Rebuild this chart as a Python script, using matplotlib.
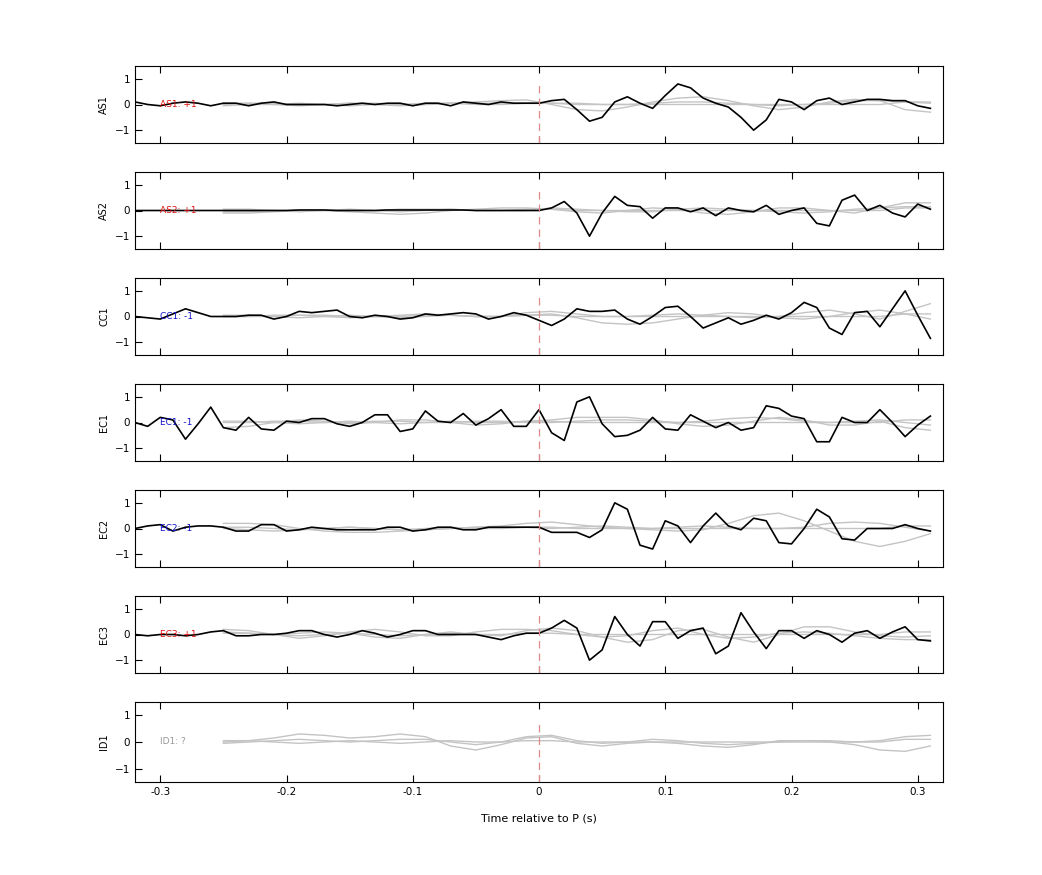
import numpy as np
import matplotlib
matplotlib.use("Agg")
import matplotlib.pyplot as plt

t_black = np.round(np.arange(-0.32, 0.315, 0.01), 2)
t_gray = np.round(np.arange(-0.25, 0.315, 0.02), 2)

stations = ["AS1", "AS2", "CC1", "EC1", "EC2", "EC3", "ID1"]
labels = ["AS1: +1", "AS2: +1", "CC1: -1", "EC1: -1", "EC2: -1", "EC3: +1", "ID1: ?"]
label_colors = ["#dd1111", "#dd1111", "#1111cc", "#1111cc", "#1111cc", "#dd1111", "#999999"]

black = {
"AS1": [0.1,0.0,-0.05,0.05,0.1,0.05,-0.05,0.05,0.05,-0.05,0.05,0.1,0.0,0.0,0.0,0.0,-0.05,0.0,0.05,0.0,0.05,0.05,-0.05,0.05,0.05,-0.05,0.1,0.05,0.0,0.1,0.05,0.05,
        0.05,0.15,0.2,-0.2,-0.65,-0.5,0.1,0.3,0.05,-0.15,0.35,0.8,0.65,0.25,0.05,-0.1,-0.5,-1.0,-0.6,0.2,0.1,-0.2,0.15,0.25,0.0,0.1,0.2,0.2,0.15,0.15,-0.05,-0.15],
"AS2": [0.0,0.0,0.0,0.0,0.0,0.0,0.0,0.0,0.0,0.0,0.0,0.0,0.0,0.02,0.02,0.02,0.0,0.0,0.0,0.0,0.02,0.02,0.02,0.02,0.02,0.02,0.02,0.0,0.0,0.0,0.0,0.0,
        0.0,0.1,0.35,-0.1,-1.0,-0.1,0.55,0.2,0.15,-0.3,0.1,0.1,-0.05,0.1,-0.2,0.1,0.0,-0.05,0.2,-0.15,0.0,0.1,-0.5,-0.6,0.4,0.6,0.0,0.2,-0.1,-0.25,0.25,0.05],
"CC1": [0.0,-0.05,-0.1,0.1,0.3,0.15,0.0,0.0,0.0,0.05,0.05,-0.1,0.0,0.2,0.15,0.2,0.25,0.0,-0.05,0.05,0.0,-0.1,-0.05,0.1,0.05,0.1,0.15,0.1,-0.1,0.0,0.15,0.05,
        -0.15,-0.35,-0.1,0.3,0.2,0.2,0.25,-0.1,-0.3,0.0,0.35,0.4,0.0,-0.45,-0.25,-0.05,-0.3,-0.15,0.05,-0.1,0.15,0.55,0.35,-0.45,-0.7,0.15,0.2,-0.4,0.3,1.0,0.05,-0.85],
"EC1": [0.0,-0.15,0.2,0.1,-0.65,-0.05,0.6,-0.2,-0.3,0.2,-0.25,-0.3,0.05,0.0,0.15,0.15,-0.05,-0.15,0.0,0.3,0.3,-0.35,-0.25,0.45,0.05,0.0,0.35,-0.1,0.15,0.5,-0.15,-0.15,
        0.5,-0.4,-0.7,0.8,1.0,-0.05,-0.55,-0.5,-0.3,0.2,-0.25,-0.3,0.3,0.05,-0.2,0.0,-0.3,-0.2,0.65,0.55,0.25,0.15,-0.75,-0.75,0.2,0.0,0.0,0.5,0.0,-0.55,-0.1,0.25],
"EC2": [0.0,0.1,0.15,-0.1,0.05,0.1,0.1,0.05,-0.1,-0.1,0.15,0.15,-0.1,-0.05,0.05,0.0,-0.05,-0.05,-0.05,-0.05,0.05,0.05,-0.1,-0.05,0.05,0.05,-0.05,-0.05,0.05,0.05,0.05,0.05,
        0.05,-0.15,-0.15,-0.15,-0.35,-0.05,1.0,0.75,-0.65,-0.8,0.3,0.1,-0.55,0.1,0.6,0.1,-0.05,0.4,0.3,-0.55,-0.6,0.0,0.75,0.45,-0.4,-0.45,0.0,0.0,0.0,0.15,0.0,-0.1],
"EC3": [0.0,-0.05,0.0,0.0,-0.05,0.0,0.1,0.15,-0.05,-0.05,0.0,0.0,0.05,0.15,0.15,0.0,-0.1,0.0,0.15,0.05,-0.1,0.0,0.15,0.15,0.0,0.0,0.0,0.0,-0.1,-0.2,-0.05,0.05,
        0.05,0.25,0.55,0.25,-1.0,-0.6,0.7,0.0,-0.45,0.5,0.5,-0.15,0.15,0.25,-0.75,-0.45,0.85,0.1,-0.55,0.15,0.15,-0.15,0.15,0.0,-0.3,0.05,0.15,-0.15,0.1,0.3,-0.2,-0.25],
}

gray_flat = [0.05,0.05,0,-0.05,0,0.05,0,-0.05,0,0.05,0,0,0.05,0.05,0,0,0,0,0,0,0,0,0,0,0,0,0,0.1,0.1]
gray = {
"AS1": [[-0.05,0,0,0.05,0,-0.05,0,0,0.05,0.05,0.1,0.15,0.18,0.0,-0.2,-0.25,-0.1,0.1,0.25,0.3,0.15,-0.05,-0.2,-0.1,0.1,0.2,0.15,-0.2,-0.3],
        [0,0.05,0.05,0,0,0.05,0.05,0,0,0.05,0.05,0.05,0.05,0.05,0.05,0.0,0.0,0.05,0.1,0.1,0.05,0.0,-0.05,0.0,0.05,0.15,0.15,0.1,0.05]],
"AS2": [[-0.1,-0.1,-0.05,0,0,-0.05,-0.1,-0.15,-0.1,0,0.05,0.1,0.1,0.05,-0.05,-0.1,0,0.1,0.05,-0.1,-0.15,-0.05,0.1,0.1,0,-0.1,0.1,0.3,0.3],
        [-0.05,-0.05,0,0,0,0,0,0.05,0.05,0.05,0,0,0,0.1,0.05,0,-0.05,-0.05,0.05,0.1,0.05,0,-0.05,-0.1,-0.05,0.05,0.1,0.15,0.15]],
"CC1": [[0,0,0,0.05,0.05,0,0,0,0.05,0.05,0,0,0.05,0.1,-0.05,-0.25,-0.3,-0.25,-0.1,0.05,0.15,0.1,-0.05,-0.1,0.0,0.15,0.25,0.1,-0.1],
        [0.0,0,0.05,0.05,0,-0.05,0,0.05,0.1,0.05,0,0,0.15,0.2,0.1,0,0,0.05,0.1,0.05,0,-0.05,0,0.15,0.25,0.1,-0.1,0.2,0.5]],
"EC1": [[-0.2,-0.15,0.0,0.1,0.05,-0.05,0,0.1,0.1,0,-0.1,-0.05,0.05,0.1,0.2,0.2,0.2,0.1,-0.05,-0.15,-0.1,0.05,0.2,0.1,-0.1,-0.1,0.05,-0.2,-0.3],
        [0,0,0.05,0.05,0,0,0.05,0.05,0,0,0.05,0.05,0,0,0.05,0.1,0.1,0.05,0,0.05,0.15,0.2,0.15,0.05,0,0.05,0.1,0.0,-0.1]],
"EC2": [[0.2,0.2,0.15,0,-0.1,-0.15,-0.15,-0.1,-0.05,0,0.05,0.1,0.2,0.25,0.15,0.05,0,-0.05,-0.1,-0.05,0.2,0.5,0.6,0.3,-0.1,-0.5,-0.7,-0.5,-0.2],
        [0,-0.05,-0.1,-0.05,0,0.05,0,-0.05,-0.05,0,0.05,0.05,0.05,0.0,0.05,0.1,0.05,0,0.05,0.1,0.05,0,0.0,0.05,0.2,0.25,0.2,0.05,-0.1]],
"EC3": [[0.2,0.15,0.0,-0.15,-0.05,0.1,0.2,0.1,-0.05,-0.05,0.1,0.2,0.2,0.15,0.0,-0.1,-0.3,-0.2,0.15,0.2,-0.1,-0.3,0.0,0.3,0.3,0.1,-0.05,-0.1,-0.05],
        [0.1,0.05,0,0.05,0.1,0.05,-0.1,-0.15,0,0.1,0.0,-0.05,0.15,0.25,0.15,-0.1,-0.05,0.15,0.25,0.0,-0.15,-0.1,0.05,0.1,0.05,-0.05,-0.15,-0.2,-0.2]],
"ID1": [[0,0.05,0.15,0.3,0.25,0.15,0.2,0.3,0.2,-0.15,-0.3,-0.1,0.15,0.2,-0.05,-0.15,-0.05,0.0,-0.05,-0.15,-0.2,-0.1,0.05,0.05,0,-0.1,-0.3,-0.35,-0.15],
        [-0.05,0,0.05,0.1,0.05,0,0.05,0.1,0.1,0,-0.1,0,0.2,0.25,0.05,-0.05,0,0.1,0.05,-0.05,-0.1,-0.05,0,0.05,0.05,0,0.05,0.2,0.25]],
}

fig = plt.figure(figsize=(10.42, 8.75), dpi=100)
W, H = 1042, 875
left, right = 135, 943
for i, st in enumerate(stations):
    top = 66 + 106 * i
    h = 77 if i < 6 else 80
    ax = fig.add_axes([left / W, 1 - (top + h) / H, (right - left) / W, h / H])
    ax.plot(t_gray, gray_flat, color="#c4c4c4", lw=1)
    for g in gray[st]:
        ax.plot(t_gray, g, color="#c4c4c4", lw=1)
    if st in black:
        ax.plot(t_black, black[st], color="black", lw=1.2)
    ax.axvline(0, ymin=0, ymax=0.75, color="#e08a8a", lw=0.9, ls=(0, (6, 4)))
    ax.text(-0.30, 0, labels[i], color=label_colors[i], fontsize=6.5, va="center")
    ax.set_xlim(-0.32, 0.32)
    ax.set_ylim(-1.5, 1.5)
    ax.set_yticks([-1, 0, 1])
    ax.set_xticks([-0.3, -0.2, -0.1, 0, 0.1, 0.2, 0.3])
    ax.tick_params(direction="in", top=True, labelsize=7.5, length=5)
    ax.set_ylabel(st, fontsize=7)
    if i < 6:
        ax.set_xticklabels([])
    else:
        ax.set_xticklabels(["-0.3", "-0.2", "-0.1", "0", "0.1", "0.2", "0.3"])
        ax.set_xlabel("Time relative to P (s)", fontsize=8, labelpad=12)

fig.savefig("out.png", dpi=100)
